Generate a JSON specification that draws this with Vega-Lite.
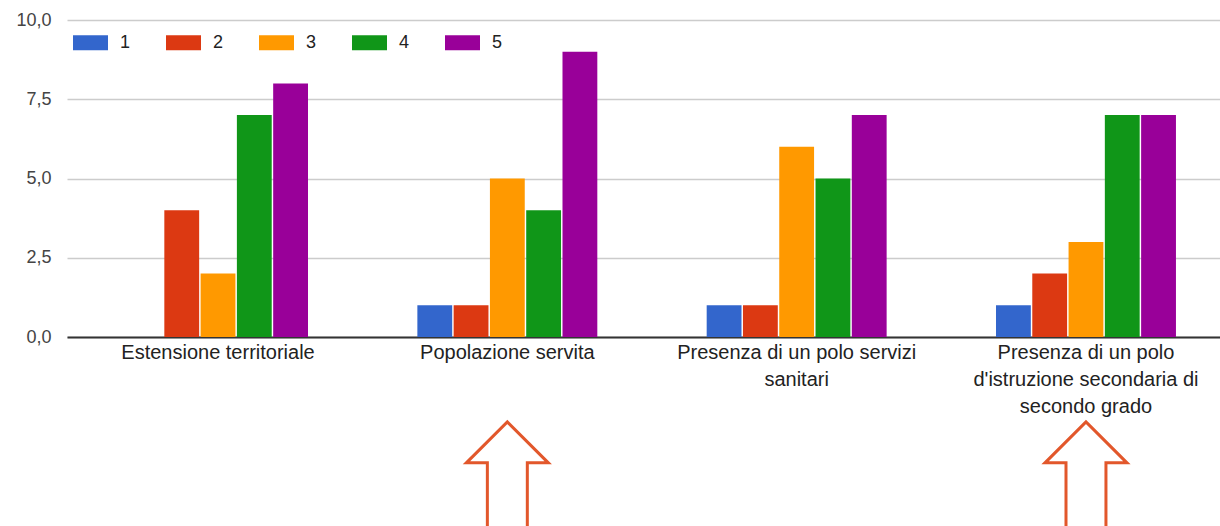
{
  "$schema": "https://vega.github.io/schema/vega-lite/v6.json",
  "width": 1153,
  "height": 317,
  "autosize": {"type": "none"},
  "padding": {"left": 67, "top": 20, "right": 0, "bottom": 189},
  "background": "white",
  "config": {
    "view": {"stroke": null},
    "font": "Liberation Sans"
  },
  "datasets": {
    "bars": [
      {"criterio": "Estensione territoriale", "voto": "1", "n": 0},
      {"criterio": "Estensione territoriale", "voto": "2", "n": 4},
      {"criterio": "Estensione territoriale", "voto": "3", "n": 2},
      {"criterio": "Estensione territoriale", "voto": "4", "n": 7},
      {"criterio": "Estensione territoriale", "voto": "5", "n": 8},
      {"criterio": "Popolazione servita", "voto": "1", "n": 1},
      {"criterio": "Popolazione servita", "voto": "2", "n": 1},
      {"criterio": "Popolazione servita", "voto": "3", "n": 5},
      {"criterio": "Popolazione servita", "voto": "4", "n": 4},
      {"criterio": "Popolazione servita", "voto": "5", "n": 9},
      {"criterio": "Presenza di un polo servizi sanitari", "voto": "1", "n": 1},
      {"criterio": "Presenza di un polo servizi sanitari", "voto": "2", "n": 1},
      {"criterio": "Presenza di un polo servizi sanitari", "voto": "3", "n": 6},
      {"criterio": "Presenza di un polo servizi sanitari", "voto": "4", "n": 5},
      {"criterio": "Presenza di un polo servizi sanitari", "voto": "5", "n": 7},
      {"criterio": "Presenza di un polo d'istruzione secondaria di secondo grado", "voto": "1", "n": 1},
      {"criterio": "Presenza di un polo d'istruzione secondaria di secondo grado", "voto": "2", "n": 2},
      {"criterio": "Presenza di un polo d'istruzione secondaria di secondo grado", "voto": "3", "n": 3},
      {"criterio": "Presenza di un polo d'istruzione secondaria di secondo grado", "voto": "4", "n": 7},
      {"criterio": "Presenza di un polo d'istruzione secondaria di secondo grado", "voto": "5", "n": 7}
    ],
    "arrows": [
      {"criterio": "Popolazione servita", "pos": -4.57},
      {"criterio": "Presenza di un polo d'istruzione secondaria di secondo grado", "pos": -4.57}
    ]
  },
  "layer": [
    {
      "data": {"name": "bars"},
      "mark": {"type": "bar"},
      "encoding": {
        "x": {
          "field": "criterio",
          "type": "nominal",
          "sort": null,
          "scale": {"range": [0, 1170], "paddingInner": 0.378, "paddingOuter": 0.211},
          "axis": {
            "title": null,
            "labelAngle": 0,
            "labelAlign": "center",
            "labelBaseline": "top",
            "labelFontSize": 20,
            "labelColor": "#222222",
            "labelLineHeight": 27,
            "labelPadding": 5,
            "labelLimit": 400,
            "ticks": false,
            "domainColor": "#333333",
            "domainWidth": 2,
            "labelExpr": "datum.value == 'Presenza di un polo servizi sanitari' ? ['Presenza di un polo servizi', 'sanitari'] : datum.value == \"Presenza di un polo d'istruzione secondaria di secondo grado\" ? ['Presenza di un polo', \"d'istruzione secondaria di\", 'secondo grado'] : datum.value"
          }
        },
        "xOffset": {"field": "voto", "type": "nominal", "scale": {"paddingInner": 0.04}},
        "y": {
          "field": "n",
          "type": "quantitative",
          "scale": {"domain": [0, 10], "nice": false},
          "axis": {
            "title": null,
            "values": [0, 2.5, 5, 7.5, 10],
            "labelExpr": "replace(format(datum.value, '.1f'), '.', ',')",
            "labelFontSize": 18,
            "labelColor": "#444444",
            "labelPadding": 16,
            "ticks": false,
            "domain": false,
            "gridColor": "#cccccc",
            "gridWidth": 1.5
          }
        },
        "color": {
          "field": "voto",
          "type": "nominal",
          "scale": {"domain": ["1", "2", "3", "4", "5"], "range": ["#3366cc", "#dc3912", "#ff9900", "#109618", "#990099"]},
          "legend": {
            "title": null,
            "orient": "none",
            "direction": "horizontal",
            "legendX": 6,
            "legendY": 5,
            "padding": 0,
            "symbolType": "M-1,-0.43H1V0.43H-1Z",
            "symbolSize": 1225,
            "symbolStrokeWidth": 0,
            "symbolOpacity": 1,
            "labelFontSize": 18,
            "labelColor": "#222222",
            "labelOffset": 12,
            "columnPadding": 35
          }
        }
      }
    },
    {
      "data": {"name": "arrows"},
      "mark": {
        "type": "point",
        "shape": "M-0.333,1V-0.317H-0.683L0,-1L0.683,-0.317H0.333V1",
        "size": 14400,
        "filled": false,
        "stroke": "#e2572b",
        "strokeWidth": 3,
        "opacity": 1
      },
      "encoding": {
        "x": {"field": "criterio", "type": "nominal", "sort": null},
        "y": {"field": "pos", "type": "quantitative"}
      }
    }
  ]
}
